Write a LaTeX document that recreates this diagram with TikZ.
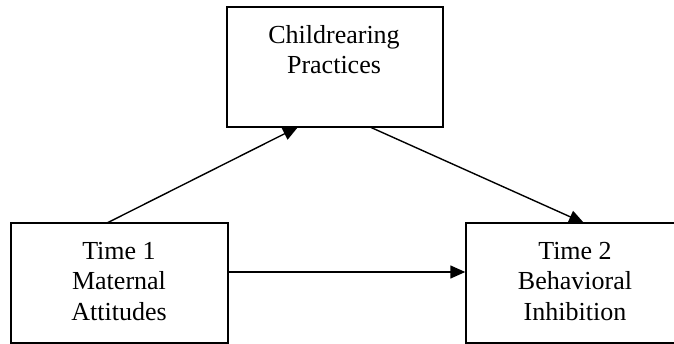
\documentclass[tikz,border=0pt]{standalone}
\usepackage{fontspec}
\setmainfont{Liberation Serif}
\usetikzlibrary{arrows.meta}
\begin{document}
\begin{tikzpicture}[x=1pt,y=-1pt,
  box/.style={draw=black, line width=1.4pt, rectangle, inner sep=0pt},
  lbl/.style={align=center, inner sep=0pt, anchor=north,
    font=\fontsize{26}{30.5}\selectfont},
  link/.style={line width=1.4pt, -{Triangle[length=15pt,width=13pt]}}]
  \useasboundingbox (0,0) rectangle (674,343);
  \begin{scope}
    \clip (0,0) rectangle (674,343);
    % the three variable boxes (the lower ones run off the page edge)
    \node[box, minimum width=216pt, minimum height=120pt] (cp) at (335,67) {};
    \node[box, minimum width=217pt, minimum height=120pt] (ma) at (119.5,283) {};
    \node[box, minimum width=214pt, minimum height=120pt] (bi) at (573,283) {};
  \end{scope}
  % box captions
  \node[lbl] (cpt) at (334,25) {Childrearing\\Practices};
  \node[lbl] (mat) at (119,242) {Time 1\\Maternal\\Attitudes};
  \node[lbl] (bit) at (575,242) {Time 2\\Behavioral\\Inhibition};
  % paths of the mediation model
  \coordinate (ma-out) at (107,223);
  \coordinate (cp-in) at (298,127);
  \coordinate (cp-out) at (370,127);
  \coordinate (bi-in) at (584,223);
  \draw[link] (ma-out) -- (cp-in);
  \draw[link] (cp-out) -- (bi-in);
  \draw[link] (ma.east |- 0,272) -- (bi.west |- 0,272);
\end{tikzpicture}
\end{document}
